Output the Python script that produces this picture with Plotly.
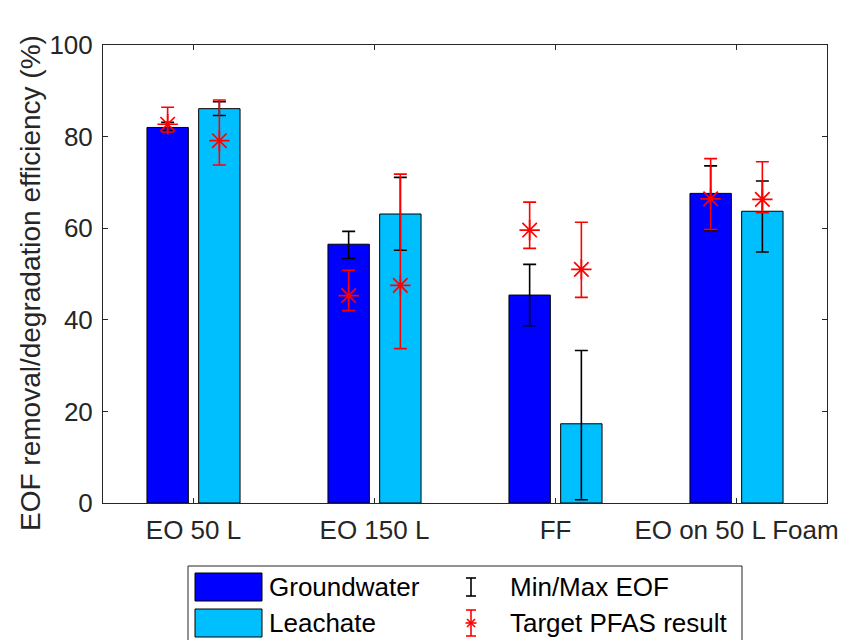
import plotly.graph_objects as go

# ---- data -------------------------------------------------------------
categories = ["EO 50 L", "EO 150 L", "FF", "EO on 50 L Foam"]

groundwater = [82.0, 56.5, 45.4, 67.6]
leachate = [86.1, 63.1, 17.3, 63.7]

# min / max EOF around each bar
gw_eof_min = [81.2, 53.4, 38.7, 59.5]
gw_eof_max = [83.1, 59.3, 52.1, 73.6]
le_eof_min = [84.6, 55.2, 0.7, 54.8]
le_eof_max = [87.6, 71.1, 33.3, 70.3]

# target PFAS result (point with min / max)
gw_pfas = [82.7, 45.3, 59.6, 66.4]
gw_pfas_min = [81.0, 42.0, 55.6, 59.7]
gw_pfas_max = [86.4, 50.8, 65.7, 75.2]
le_pfas = [79.1, 47.5, 51.0, 66.3]
le_pfas_min = [73.8, 33.7, 44.9, 63.4]
le_pfas_max = [88.0, 71.8, 61.3, 74.5]

y_ticks = [0, 20, 40, 60, 80, 100]

# ---- style ------------------------------------------------------------
C_GW = "#0000FF"
C_LE = "#00BFFF"
C_AX = "#262626"
FONT = "Liberation Sans, Arial, Helvetica, sans-serif"

W, H = 846, 640
ML, MR, MT, MB = 103, 19, 45, 137

# grouped-bar geometry (two bars per category)
n_series = 2
group_width = min(0.8, n_series / (n_series + 1.5))
slot = group_width / n_series
bar_width = 0.8 * slot
idx = list(range(1, len(categories) + 1))
x_gw = [i - slot / 2 for i in idx]
x_le = [i + slot / 2 for i in idx]


def err(center, lo, hi, color):
    return dict(type="data", symmetric=False,
                array=[h - c for c, h in zip(center, hi)],
                arrayminus=[c - l for c, l in zip(center, lo)],
                color=color, thickness=1.6, width=6.5)


fig = go.Figure()
fig.add_trace(go.Bar(x=x_gw, y=groundwater, width=bar_width, name="Groundwater",
                     marker=dict(color=C_GW, line=dict(color="black", width=1))))
fig.add_trace(go.Bar(x=x_le, y=leachate, width=bar_width, name="Leachate",
                     marker=dict(color=C_LE, line=dict(color="black", width=1))))

for xs, v, lo, hi in [(x_gw, groundwater, gw_eof_min, gw_eof_max),
                      (x_le, leachate, le_eof_min, le_eof_max)]:
    fig.add_trace(go.Scatter(x=xs, y=v, mode="markers",
                             marker=dict(size=1, color="rgba(0,0,0,0)"),
                             error_y=err(v, lo, hi, "black"),
                             name="Min/Max EOF", hoverinfo="skip"))

for xs, v, lo, hi in [(x_gw, gw_pfas, gw_pfas_min, gw_pfas_max),
                      (x_le, le_pfas, le_pfas_min, le_pfas_max)]:
    fig.add_trace(go.Scatter(x=xs, y=v, mode="markers",
                             marker=dict(symbol="asterisk-open", size=17,
                                         color="red", line=dict(color="red", width=1.7)),
                             error_y=err(v, lo, hi, "red"),
                             name="Target PFAS result"))

# ---- legend box drawn below the axes ----------------------------------
def px(x):
    return (x - ML) / (W - ML - MR)


def py(y):
    return (H - MB - y) / (H - MT - MB)


shapes = []


def line(x0, y0, x1, y1, color, width=1.6):
    shapes.append(dict(type="line", xref="paper", yref="paper",
                       x0=px(x0), y0=py(y0), x1=px(x1), y1=py(y1),
                       line=dict(color=color, width=width)))


shapes.append(dict(type="rect", xref="paper", yref="paper",
                   x0=px(188), y0=py(566), x1=px(742), y1=py(660),
                   fillcolor="white", line=dict(color=C_AX, width=1)))

row1, row2 = 587, 623
for yc, color in [(row1, C_GW), (row2, C_LE)]:
    shapes.append(dict(type="rect", xref="paper", yref="paper",
                       x0=px(195), y0=py(yc - 14), x1=px(262), y1=py(yc + 14),
                       fillcolor=color, line=dict(color="black", width=1)))

ix = 471
# black min/max icon
line(ix, row1 - 9, ix, row1 + 9, "black")
line(ix - 5, row1 - 9, ix + 5, row1 - 9, "black")
line(ix - 5, row1 + 9, ix + 5, row1 + 9, "black")
# red target icon with asterisk
line(ix, row2 - 13, ix, row2 + 13, "red")
line(ix - 5, row2 - 13, ix + 5, row2 - 13, "red")
line(ix - 5, row2 + 13, ix + 5, row2 + 13, "red")
line(ix - 5.5, row2, ix + 5.5, row2, "red")
line(ix - 4, row2 - 4, ix + 4, row2 + 4, "red")
line(ix - 4, row2 + 4, ix + 4, row2 - 4, "red")

annotations = []
for txt, x, y in [("Groundwater", 267, row1), ("Leachate", 267, row2),
                  ("Min/Max EOF", 508, row1), ("Target PFAS result", 508, row2)]:
    annotations.append(dict(text=txt, xref="paper", yref="paper",
                            x=px(x), y=py(y), xanchor="left", yanchor="middle",
                            showarrow=False, font=dict(size=26, color="black", family=FONT)))

# y-axis title
annotations.append(dict(text="EOF removal/degradation efficiency (%)", xref="paper", yref="paper",
                        x=px(30), y=py(283), textangle=-90, xanchor="center", yanchor="middle",
                        showarrow=False, font=dict(size=28, color=C_AX, family=FONT)))

fig.update_layout(
    width=W, height=H,
    margin=dict(l=ML, r=MR, t=MT, b=MB, autoexpand=False),
    plot_bgcolor="white", paper_bgcolor="white",
    showlegend=False,
    font=dict(family=FONT, color=C_AX),
    shapes=shapes, annotations=annotations,
)
fig.update_xaxes(range=[0.5, len(categories) + 0.5], tickvals=idx, ticktext=categories,
                 ticks="inside", ticklen=5, tickcolor=C_AX, showline=True, linecolor=C_AX,
                 linewidth=1, mirror="ticks", showgrid=False, zeroline=False,
                 tickfont=dict(size=26, color=C_AX), ticklabelstandoff=4)
fig.update_yaxes(range=[0, 100], tickvals=y_ticks, ticks="inside", ticklen=5, tickcolor=C_AX,
                 showline=True, linecolor=C_AX, linewidth=1, mirror="ticks", showgrid=False,
                 zeroline=False, tickfont=dict(size=26, color=C_AX), ticklabelstandoff=4)

fig.write_html("out.html")
